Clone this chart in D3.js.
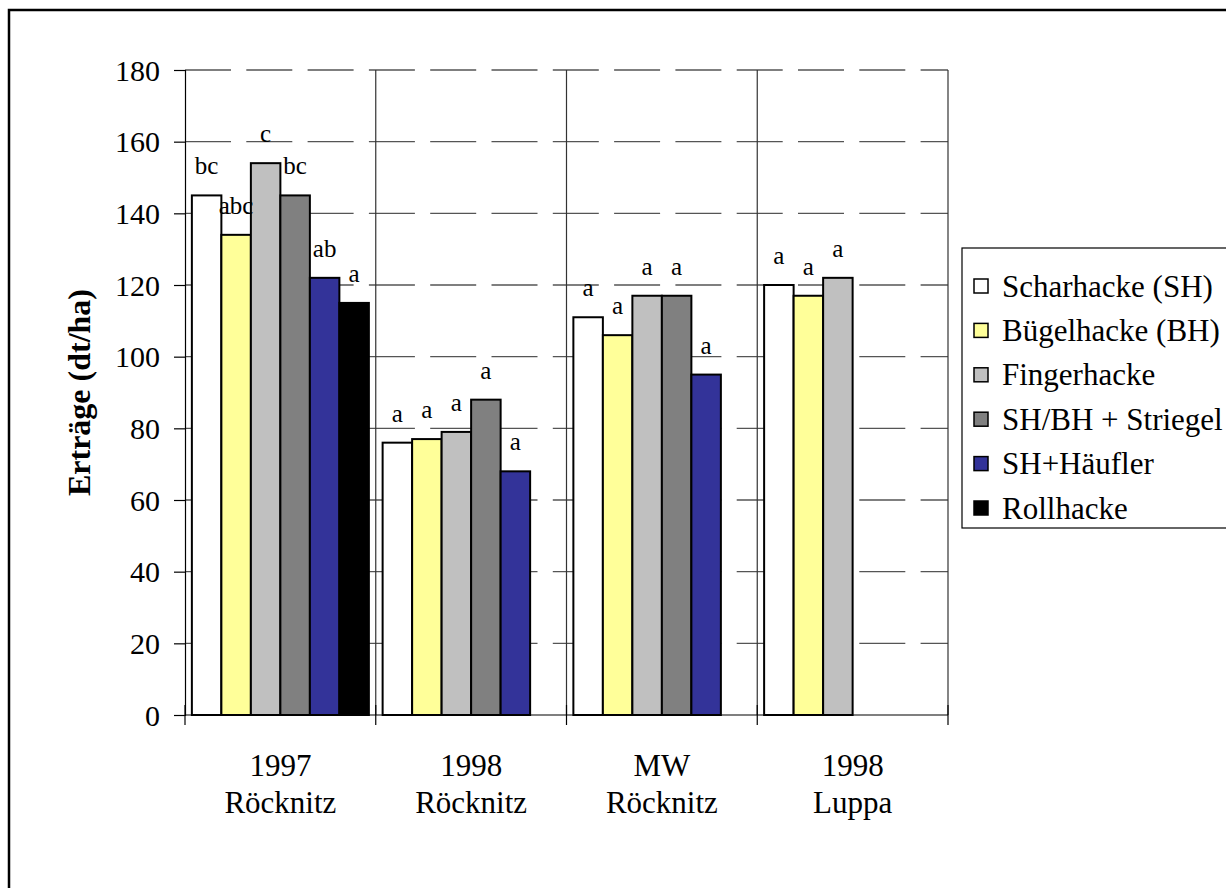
<!DOCTYPE html>
<html>
<head>
<meta charset="utf-8">
<script src="https://cdn.jsdelivr.net/npm/d3@7"></script>
<style>
  html, body { margin: 0; padding: 0; background: #fff; overflow: hidden; }
  svg { display: block; }
</style>
</head>
<body>
<svg id="chart" width="1226" height="888" font-family="Liberation Serif, Times New Roman, serif"></svg>
<script>
// Yield data (dt/ha) per site/year and hoeing method
const categoryYear = ["1997", "1998", "MW", "1998"];
const categorySite = ["Röcknitz", "Röcknitz", "Röcknitz", "Luppa"];
const seriesNames = ["Scharhacke (SH)", "Bügelhacke (BH)", "Fingerhacke", "SH/BH + Striegel", "SH+Häufler", "Rollhacke"];
const seriesColors = ["#ffffff", "#ffff99", "#c0c0c0", "#808080", "#333399", "#000000"];

const scharhacke  = [145, 76, 111, 120];
const buegelhacke = [134, 77, 106, 117];
const fingerhacke = [154, 79, 117, 122];
const striegel    = [145, 88, 117, null];
const haeufler    = [122, 68, 95, null];
const rollhacke   = [115, null, null, null];

// Significance letters shown above each bar
const lettersScharhacke  = ["bc", "a", "a", "a"];
const lettersBuegelhacke = ["abc", "a", "a", "a"];
const lettersFingerhacke = ["c", "a", "a", "a"];
const lettersStriegel    = ["bc", "a", "a", null];
const lettersHaeufler    = ["ab", "a", "a", null];
const lettersRollhacke   = ["a", null, null, null];

const yTicks = [0, 20, 40, 60, 80, 100, 120, 140, 160, 180];

const seriesValues = [scharhacke, buegelhacke, fingerhacke, striegel, haeufler, rollhacke];
const seriesLetters = [lettersScharhacke, lettersBuegelhacke, lettersFingerhacke, lettersStriegel, lettersHaeufler, lettersRollhacke];

const FONT = "Liberation Serif, Times New Roman, serif";
const svg = d3.select("#chart");
const plot = { left: 185, right: 948, top: 70, bottom: 715 };

// Outer chart frame
svg.append("rect")
  .attr("x", 9).attr("y", 10)
  .attr("width", 1600).attr("height", 1200)
  .attr("fill", "none").attr("stroke", "#000").attr("stroke-width", 2.5);

const catIdx = d3.range(categoryYear.length);
const x0 = d3.scaleBand().domain(catIdx).range([plot.left, plot.right]).paddingInner(0).paddingOuter(0);
const x1 = d3.scaleBand().domain(d3.range(seriesNames.length)).range([0, x0.bandwidth()])
  .paddingInner(0).paddingOuter(0.233);
const y = d3.scaleLinear().domain([0, 180]).range([plot.bottom, plot.top]);

// Horizontal dashed gridlines
svg.append("g").selectAll("line")
  .data(yTicks.filter(t => t > 0))
  .join("line")
  .attr("x1", plot.left).attr("x2", plot.right)
  .attr("y1", d => y(d)).attr("y2", d => y(d))
  .attr("stroke", "#555").attr("stroke-width", 1.4)
  .attr("stroke-dasharray", "46,15.3");

// Vertical category separators
svg.append("g").selectAll("line")
  .data(catIdx.slice(1).concat([catIdx.length]))
  .join("line")
  .attr("x1", d => plot.left + d * x0.step()).attr("x2", d => plot.left + d * x0.step())
  .attr("y1", plot.top).attr("y2", plot.bottom)
  .attr("stroke", "#333").attr("stroke-width", 1.2);

// Bars
const bars = [];
seriesValues.forEach((vals, s) => {
  vals.forEach((v, c) => {
    if (v !== null) bars.push({ s, c, v, letter: seriesLetters[s][c] });
  });
});

svg.append("g").selectAll("rect")
  .data(bars)
  .join("rect")
  .attr("x", d => x0(d.c) + x1(d.s))
  .attr("width", x1.bandwidth())
  .attr("y", d => y(d.v))
  .attr("height", d => y(0) - y(d.v))
  .attr("fill", d => seriesColors[d.s])
  .attr("stroke", "#000").attr("stroke-width", 2);

// Letters above bars
svg.append("g").selectAll("text")
  .data(bars.filter(d => d.letter))
  .join("text")
  .attr("x", d => x0(d.c) + x1(d.s) + x1.bandwidth() / 2)
  .attr("y", d => y(d.v) - 21)
  .attr("text-anchor", "middle")
  .attr("font-family", FONT)
  .attr("font-size", 25)
  .text(d => d.letter);

// Y axis
const yAxis = d3.axisLeft(y).tickValues(yTicks).tickSize(11).tickPadding(14).tickFormat(d3.format("d"));
const gy = svg.append("g").attr("transform", `translate(${plot.left},0)`).call(yAxis)
  .attr("font-family", FONT);
gy.select(".domain").attr("stroke", "#000").attr("stroke-width", 1.2);
gy.selectAll(".tick line").attr("stroke", "#000").attr("stroke-width", 1.2);
gy.selectAll(".tick text").attr("font-size", 30).attr("font-family", FONT).attr("dy", "0.34em");

// X axis baseline and tick marks at category boundaries
svg.append("line")
  .attr("x1", plot.left).attr("x2", plot.right)
  .attr("y1", plot.bottom).attr("y2", plot.bottom)
  .attr("stroke", "#000").attr("stroke-width", 1.2);
svg.append("g").selectAll("line")
  .data(d3.range(categoryYear.length + 1))
  .join("line")
  .attr("x1", d => plot.left + d * x0.step()).attr("x2", d => plot.left + d * x0.step())
  .attr("y1", plot.bottom - 10).attr("y2", plot.bottom + 10)
  .attr("stroke", "#000").attr("stroke-width", 1.2);

// Category labels (two lines)
const catG = svg.append("g").attr("font-family", FONT).attr("font-size", 31).attr("text-anchor", "middle");
catG.selectAll("text.year")
  .data(catIdx)
  .join("text").attr("class", "year")
  .attr("x", d => x0(d) + x0.bandwidth() / 2).attr("y", 776)
  .attr("font-family", FONT)
  .text(d => categoryYear[d]);
catG.selectAll("text.site")
  .data(catIdx)
  .join("text").attr("class", "site")
  .attr("x", d => x0(d) + x0.bandwidth() / 2).attr("y", 813)
  .attr("font-family", FONT)
  .text(d => categorySite[d]);

// Y axis title
svg.append("text")
  .attr("transform", `translate(90,${(plot.top + plot.bottom) / 2}) rotate(-90)`)
  .attr("text-anchor", "middle")
  .attr("font-family", FONT)
  .attr("font-size", 32).attr("font-weight", "bold")
  .text("Erträge (dt/ha)");

// Legend
const legend = svg.append("g");
legend.append("rect")
  .attr("x", 962).attr("y", 248).attr("width", 700).attr("height", 280)
  .attr("fill", "#fff").attr("stroke", "#000").attr("stroke-width", 1.2);
const legendY = d3.scalePoint().domain(d3.range(seriesNames.length)).range([286, 508]);
const items = legend.selectAll("g.item")
  .data(d3.range(seriesNames.length))
  .join("g").attr("class", "item")
  .attr("transform", d => `translate(0,${legendY(d)})`);
items.append("rect")
  .attr("x", 974).attr("y", -7).attr("width", 14).attr("height", 14)
  .attr("fill", d => seriesColors[d]).attr("stroke", "#000").attr("stroke-width", 1.5);
items.append("text")
  .attr("x", 1002).attr("y", 0).attr("dy", "0.34em")
  .attr("font-family", FONT)
  .attr("font-size", 31)
  .text(d => seriesNames[d]);
</script>
</body>
</html>
